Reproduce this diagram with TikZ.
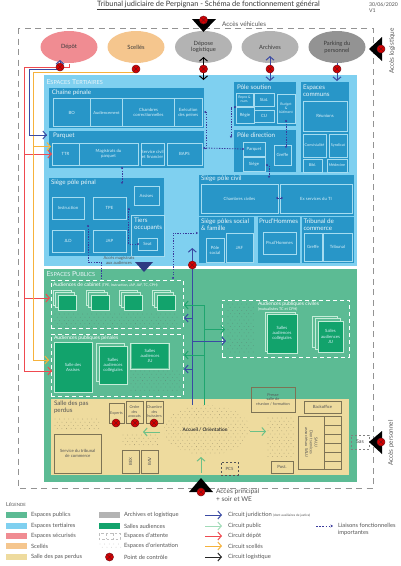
\documentclass[tikz,border=0pt]{standalone}
\usepackage{fontspec}
\setmainfont{Lato}
\usetikzlibrary{arrows.meta,shapes.geometric}
\definecolor{cPub}{HTML}{5CBB94}
\definecolor{cTer}{HTML}{7FD0F0}
\definecolor{cBox}{HTML}{2896C8}
\definecolor{cLine}{HTML}{A5DCF0}
\definecolor{cYel}{HTML}{EEDB9E}
\definecolor{cSec}{HTML}{F08C92}
\definecolor{cSce}{HTML}{F5C68E}
\definecolor{cGry}{HTML}{B3B3B3}
\definecolor{cPrk}{HTML}{808080}
\definecolor{cAud}{HTML}{12A36C}
\definecolor{cAudL}{HTML}{C4EDD8}
\definecolor{cBrn}{HTML}{7D7355}
\definecolor{cJur}{HTML}{3A4AA3}
\definecolor{cGrn}{HTML}{1FA56F}
\definecolor{cGrL}{HTML}{6CC088}
\definecolor{cDep}{HTML}{EF4A50}
\definecolor{cScl}{HTML}{F6B23C}
\definecolor{cLnk}{HTML}{3A3A9C}
\definecolor{cTxt}{HTML}{555555}
\definecolor{ctrlD}{HTML}{7A1018}
\newcommand\fs[1]{\fontsize{#1}{\fpeval{#1*1.18}}\selectfont}
\newcommand\bx[7][]{\pgfmathsetmacro\bxw{(#5)-(#3)}\pgfmathsetmacro\bxh{(#6)-(#4)}\pgfmathsetmacro\bxx{((#3)+(#5))/2}\pgfmathsetmacro\bxy{((#4)+(#6))/2}\node[#1,minimum width=\bxw pt,minimum height=\bxh pt] (#2) at (\bxx,\bxy) {#7};}
\newcommand\dotfield[5]{\pgfmathtruncatemacro\dfny{(#4-#2)/3.2}\pgfmathtruncatemacro\dfnx{(#3-#1)/4.6}%
\foreach \dfj in {0,...,\dfny}{\foreach \dfi in {0,...,\dfnx}{\pgfmathsetmacro\dfx{#1+\dfi*4.6+mod(\dfj,2)*2.3}\pgfmathsetmacro\dfy{#2+\dfj*3.2}\fill[#5] (\dfx,\dfy) circle (0.4);}}}
\newcommand\ctrl[3]{\node[ctrlpt] (#1) at (#2,#3) {};\draw[line width=.5,draw=ctrlD] (#1.north west)--(#1.south east) (#1.north east)--(#1.south west);}
\newcommand\stackbx[7]{\foreach \sti in {#7,...,1}{\pgfmathsetmacro\stx{\sti*#6}\bx[salle,fill=cPub]{#1b\sti}{#2-\stx}{#3-\stx}{#4-\stx}{#5-\stx}{}}}
\tikzset{
 x=1pt,y=-1pt,
 base/.style={inner sep=0pt,outer sep=0pt,align=center,font=\fs{4.3},text=cLine!40!white},
 zoneb/.style={base,rectangle,fill=cBox},
 bbox/.style={base,rectangle,draw=cLine,line width=.6pt},
 salle/.style={base,rectangle,fill=cAud,draw=cAudL,line width=.7pt},
 ybox/.style={base,rectangle,draw=cBrn,line width=.7pt,text=cTxt},
 ell/.style={base,ellipse,minimum width=57pt,minimum height=32pt,font=\fs{5.8},text=cTxt!70!black},
 ctrlpt/.style={circle,inner sep=0pt,outer sep=0pt,minimum size=8pt,fill=red!85!black,draw=ctrlD,line width=.5pt},
 ttl/.style={inner sep=0pt,outer sep=0pt,anchor=west,align=left,font=\fs{6.3},text=white!90!cBox},
 lab/.style={inner sep=0pt,outer sep=0pt,anchor=west,align=left,font=\fs{5.8},text=cTxt},
 circ/.style={line width=1pt,-{Straight Barb[length=3.5pt,width=8pt]}},
 plain/.style={line width=1pt},
 lnk/.style={line width=.8pt,draw=cLnk,dash pattern=on 1.3pt off 1.3pt},
 rnd/.style={fill=cLnk,circle,inner sep=0pt,minimum size=2.4pt},
 wdash/.style={draw=white,line width=.9pt,dash pattern=on 4pt off 3pt},
 dotG/.style={cTxt!40!cPub},
 dotY/.style={cBrn!65!cYel},
}
\begin{document}
\begin{tikzpicture}
\useasboundingbox (0,0) rectangle (400,566);
\fill[white] (0,0) rectangle (400,566);
% header
\node[inner sep=0pt,font=\fs{7.4},text=cTxt!70!black] (title) at (208.5,5) {\underline{Tribunal judiciaire de Perpignan - Schéma de fonctionnement général}};
\node[lab,font=\fs{5.2},align=left] (date) at (369,8) {30/06/2020\\V1};
\node[lab,font=\fs{6.4}] (accv) at (222,24.5) {Accès véhicules};
\node[lab,rotate=90,anchor=center,font=\fs{6.4}] (accl) at (392,51) {Accès logistique};
\node[lab,rotate=90,anchor=center,font=\fs{6.4}] (accp) at (391,443) {Accès personnel};
\node[lab,font=\fs{6.6}] (accm) at (216,495) {Accès principal\\+ soir et WE};
% outer dashed
\draw[draw=cPrk!85!white,line width=.9pt,dash pattern=on 6pt off 4.5pt] (18,28) rectangle (373,488);
% ellipses
\node[ell,fill=cSec] (eDep) at (69,47) {Dépôt};
\node[ell,fill=cSce] (eSce) at (136,47) {Scellés};
\node[ell,fill=cGry] (eLog) at (203.5,47) {Dépose\\logistique};
\node[ell,fill=cGry] (eArc) at (270,47) {Archives};
\node[ell,fill=cPrk!85!white] (ePrk) at (337,47) {Parking du\\personnel};
% zones
\bx[base,fill=cTer]{zTer}{44}{75}{357}{266}{}
\bx[base,fill=cPub]{zPub}{44}{269}{357}{482}{}
\bx[base,fill=cYel]{zYel}{51}{399}{349}{475}{}
\node[ttl,font=\fs{6.9}] (tTer) at (46.5,82) {E{\fs{5.6}SPACES} T{\fs{5.6}ERTIAIRES}};
\node[ttl,font=\fs{6.9}] (tPub) at (46.5,274) {E{\fs{5.6}SPACES} P{\fs{5.6}UBLICS}};
% chaine penale
\bx[zoneb]{zCha}{49}{88}{204}{128}{}
\node[ttl] at (52,93) {Chaîne pénale};
\bx[bbox]{bBO}{53}{98.5}{90.5}{126.7}{BO}
\bx[bbox,font=\fs{4.1}]{bAud}{90.5}{98.5}{122.5}{126.7}{Audiencement}
\bx[bbox]{bCha}{122.5}{98.5}{174.5}{126.7}{Chambres\\correctionnelles}
\bx[bbox]{bExe}{174.5}{98.5}{202}{126.7}{Exécution\\des peines}
% parquet
\bx[zoneb]{zPar}{49}{131}{204}{168.3}{}
\node[ttl] at (53,136) {Parquet};
\bx[bbox]{bTTR}{52}{143}{79}{165}{TTR}
\bx[bbox]{bMag}{79}{143}{138}{165}{Magistrats du\\parquet}
\bx[bbox]{bSer}{141}{143}{164}{165}{Service civil\\et financier}
\bx[bbox]{bBAP}{167}{143}{202}{165}{BAPS}
% siege penal
\bx[zoneb]{zPen}{49}{178}{164}{256}{}
\node[ttl] at (51,183) {Siège pôle pénal};
\bx[bbox]{bAss}{134}{186}{159}{205}{Assises}
\bx[bbox]{bIns}{52}{197}{84}{219}{Instruction}
\bx[bbox]{bTPE}{93}{197}{126}{219}{TPE}
\bx[bbox]{bJLD}{52}{230}{84}{252}{JLD}
\bx[bbox]{bJAP}{93}{230}{126}{252}{JAP}
\bx[base,fill=cBox,draw=cLine,line width=.6pt]{zTie}{131}{215}{164}{256}{}
\node[ttl] at (134,224) {Tiers\\occupants};
\bx[bbox]{bSea}{138}{238}{157}{250}{Seat}
% soutien
\bx[zoneb]{zSou}{234}{82}{296}{126}{}
\node[ttl] at (237,87) {Pôle soutien};
\bx[bbox,font=\fs{3.5}]{bRep}{236}{93}{253}{106}{Repro \&\\num.}
\bx[bbox]{bSta}{254}{93}{274}{106}{Stat.}
\bx[bbox]{bReg}{236}{107}{254}{123}{Régie}
\bx[bbox]{bCIJ}{254}{110}{274}{122}{CIJ}
\bx[bbox,font=\fs{3.5}]{bBud}{277}{94}{295}{123}{Budget\\\&\\bâtiment}
% direction
\bx[zoneb]{zDir}{234}{130}{296}{172}{}
\node[ttl] at (237,135.5) {Pôle direction};
\bx[bbox]{bPar2}{243}{142}{265}{156}{Parquet}
\bx[bbox]{bSie}{243}{157}{265}{171}{Siège}
\bx[bbox]{bGre}{274}{145}{291}{165}{Greffe}
% communs
\bx[zoneb]{zCom}{301}{82}{349}{172}{}
\node[ttl] at (303,91) {Espaces\\communs};
\bx[bbox]{bReu}{303}{101}{347}{131}{Réunions}
\bx[bbox,font=\fs{3.8}]{bCon}{303}{134}{326}{157}{Convivialité}
\bx[bbox,font=\fs{3.8}]{bSyn}{329}{134}{347}{157}{Syndicat}
\bx[bbox,font=\fs{3.8}]{bBib}{303}{159}{322}{172}{Bibl.}
\bx[bbox,font=\fs{3.8}]{bMed}{327}{159}{347}{172}{Médecine}
% civil
\bx[zoneb]{zCiv}{199}{175}{354}{216}{}
\node[ttl] at (201,179) {Siège pôle civil};
\bx[bbox]{bChC}{201}{184}{278}{213}{Chambres civiles}
\bx[bbox]{bExS}{280}{184}{352}{213}{Ex services du TI}
% social
\bx[zoneb]{zSoc}{199}{217}{254}{263}{}
\node[ttl] at (201,224.5) {Siège pôles social\\\& famille};
\bx[bbox]{bPso}{206}{238}{224}{262}{Pôle\\social}
\bx[bbox]{bJAF}{226}{233}{253}{262}{JAF}
% prud
\bx[zoneb]{zPru}{258}{217}{300}{263}{}
\node[ttl] at (259,221) {Prud'Hommes};
\bx[bbox]{bPru}{263}{232}{296}{254}{Prud'Hommes}
% commerce
\bx[zoneb]{zTri}{302}{217}{354}{263}{}
\node[ttl] at (303.5,224.5) {Tribunal de\\commerce};
\bx[bbox]{bGrT}{304}{233}{322}{261}{Greffe}
\bx[bbox]{bTrb}{323}{233}{352}{261}{Tribunal}
% acces magistrats
\node[lab,anchor=center,font=\fs{4.2},align=center] (lMag) at (119,260.5) {Accès magistrats\\aux audiences};
\fill[cJur!80!black] (135,262) -- (153,262) -- (144,272) -- cycle;
% audiences cabinet
\bx[base,wdash]{dCab}{51}{280}{183}{328}{}
\node[ttl,font=\fs{5.1},text=white] (tCab) at (53,285) {Audiences de cabinet {\fs{3.5}(TPE, Instruction, JAP, JAF, TC, CPH)}};
\foreach \bxs/\bxa in {58/a,91/b,124/c,157/d}{
 \pgfmathsetmacro\bxe{\bxs+18.5}
 \stackbx{sc\bxa}{\bxs}{295}{\bxe}{310}{2.5}{2}
 \bx[salle]{sc\bxa f}{\bxs}{295}{\bxe}{310}{}
}
\dotfield{55}{314}{176}{327}{dotG}
% audiences penales
\bx[base,wdash]{dPen}{51}{334}{183}{396}{}
\node[ttl,font=\fs{5.1},text=white] (tPe) at (54,338) {Audiences publiques pénales};
\bx[salle]{sAss}{54}{342}{92}{392}{Salle des\\Assises}
\bx[salle,fill=cPub]{sCoB}{96}{343}{124}{381}{}
\bx[salle]{sCoF}{99}{346}{127}{384}{Salles\\audiences\\collégiales}
\bx[salle,fill=cPub]{sJUb}{130}{343}{169}{369}{}
\bx[salle,draw=none]{sJUf}{132}{344}{168}{368}{Salles\\audiences\\JU}
\dotfield{131}{371}{178}{393}{dotG}
% audiences civiles
\bx[base,wdash]{dCiv}{222}{300}{349}{357}{}
\node[ttl,font=\fs{5.1},text=white] (tCi) at (258,304) {Audiences publiques civiles};
\node[ttl,font=\fs{3.7},text=white] (tCi2) at (258,309) {(mutualisées TC et CPH)};
\dotfield{228}{304}{252}{354}{dotG}
\bx[salle,fill=cPub]{sC2b}{265}{312}{295}{351}{}
\bx[salle]{sC2f}{267}{314}{297}{353}{Salles\\audiences\\collégiales}
\bx[salle,fill=cPub]{sJ3}{312}{316}{337}{347}{}
\bx[salle,fill=cPub]{sJ2}{315}{318.5}{340}{349.5}{}
\bx[salle]{sJ1}{318}{321}{343}{352}{Salles\\audiences\\JU}
% presse etc
\bx[ybox,font=\fs{3.9}]{yPre}{251}{387}{295}{412}{Presse\\salle de\\réunion / formation}
\bx[ybox]{yBac}{304}{401}{341}{413}{Backoffice}
\bx[ybox]{yGrd}{324.5}{416}{341}{469}{}
\foreach \gy in {425,434,443,452,461}{\draw[cBrn,line width=.7pt] (324.5,\gy) -- (341,\gy);}
\bx[ybox]{ySAU}{298}{416}{324.5}{469}{}
\node[base,rotate=-90,text=cTxt,font=\fs{4}] (tSAU) at (ySAU) {SAUJ\\Dont services\\associés au SAUJ};
\bx[ybox]{yPos}{271}{461}{293}{473}{Post.}
\bx[ybox,draw=cTxt,line width=.6pt,dash pattern=on 2pt off 2pt]{yPCS}{221}{462}{238}{475}{PCS}
\dotfield{268}{418}{294}{459}{dotY}
\begin{scope}
 \clip (207,430) ellipse (43 and 25);
 \dotfield{162}{405}{252}{455}{dotY}
\end{scope}
\node[inner sep=0pt,font=\fs{4.8}\bfseries,text=black!80] (acc) at (205,430) {Accueil / Orientation};
\node[lab,font=\fs{6.2},text=cTxt] (tSal) at (54,407) {Salle des pas\\perdus};
\dotfield{55}{419}{101}{431}{dotY}
\bx[ybox]{ySer}{54}{434}{101.5}{473}{Service du tribunal\\de commerce}
\bx[ybox,font=\fs{3.8}]{yExp}{109}{403}{124}{423}{Experts}
\bx[ybox,font=\fs{3.8}]{yOrd}{126}{401}{143}{423}{Ordre\\des\\avocats}
\bx[ybox,font=\fs{3.8}]{yHui}{146}{401}{163}{423}{Chambre\\des\\huissiers}
\dotfield{123}{435}{157}{447}{dotY}
\bx[ybox]{yBEX}{122}{450}{139}{473}{}
\node[base,rotate=90,text=cTxt] at (yBEX) {BEX};
\bx[ybox]{yBAV}{141}{450}{158}{473}{}
\node[base,rotate=90,text=cTxt] at (yBAV) {BAV};
% Sas
\bx[ybox,draw=cPrk,line width=.6pt,dash pattern=on 2pt off 2pt,font=\fs{5.4}]{ySas}{351}{435}{369}{449}{Sas}
% triangles
\fill[black] (203.5,32) -- (192,19) -- (216,19) -- cycle;
\fill[black] (369,49) -- (382,37) -- (382,61) -- cycle;
\fill[black] (369,442) -- (382,431) -- (382,454) -- cycle;
\fill[black] (201,478) -- (189,492) -- (213,492) -- cycle;
% named ends
\coordinate (aDepT) at (69,64);
\coordinate (aPen) at (52,154);
\coordinate (aCab) at (50,298);
\coordinate (aAss) at (52,371);
\coordinate (aScl1) at (51,146.5);
\coordinate (aScl2) at (49,360);
\coordinate (aJur) at (47,135);
% circuits left
\draw[plain,cDep] (aDepT) |- (24,67) -- (24,371) -- (aAss) ;
\draw[circ,cDep] (24,371) -- (aAss);
\draw[circ,cDep] (24,154) -- (aPen);
\draw[circ,cDep] (24,298) -- (aCab);
\draw[plain,cScl] (136,69) |- (33.7,72.5) -- (33.7,360) -- (aScl2);
\draw[circ,cScl] (33.7,360) -- (aScl2);
\draw[circ,cScl] (33.7,146.5) -- (aScl1);
\draw[plain,cJur] (60,69.7) -| (29,135) -- (aJur);
\draw[circ,cJur] (29,135) -- (aJur);
\draw[circ,cJur] (60,68) -- (60,60);
% top circuits
\draw[circ,black] (203.5,69) -- (203.5,57);
\draw[circ,black] (203.5,69) -- (203.5,80);
\draw[circ,cJur] (270,69) -- (270,56);
\draw[circ,cJur] (270,69) -- (270,81);
\draw[circ,cJur] (ePrk.south) -- (337,81);
% central circuits
\draw[circ,cJur] (192.3,405) -- (192.3,248);
\draw[plain,cGrn] (204,405) -- (204,305);
\draw[circ,cGrn] (204,305) -- (184,305);
\draw[circ,cGrn] (204,355) -- (184,355);
\draw[circ,cGrn] (204,329.5) -- (225,329.5);
\draw[circ,cJur] (192.3,318) -- (184,318);
\draw[circ,cJur] (192.3,369) -- (184,369);
\draw[circ,cJur] (192.3,341) -- (226,341);
\draw[circ,cGrL] (160,432) -- (143,432);
\draw[circ,cGrL] (250,431.5) -- (266,431.5);
\draw[circ,cGrL] (201,473) -- (201,457);
% links
\draw[lnk,-{Stealth[length=2.2pt,width=2.6pt]}] (122,168) -- (122,184);
\node[rnd] at (122,168) {};
\draw[lnk,{Stealth[length=2.2pt,width=2.6pt]}-{Stealth[length=2.2pt,width=2.6pt]}] (204,112) -| (206,148) -- (203,148);
\draw[lnk] (206,148) -- (bPar2.west);
\node[rnd] at (bPar2.west) {};
\draw[lnk,-{Stealth[length=2.2pt,width=2.6pt]}] (235,107) -| (231,138);
\node[rnd] at (235,107) {};
\draw[lnk,-{Stealth[length=2.2pt,width=2.6pt]}] (286,121) -- (286,148);
\node[rnd] at (286,121) {};
\draw[lnk,-{Stealth[length=2.2pt,width=2.6pt]}] (267,165) -| (269,178);
\node[rnd] at (267,165) {};
\draw[lnk,{Stealth[length=2.2pt,width=2.6pt]}-{Stealth[length=2.2pt,width=2.6pt]}] (276,198) -- (283,198);
\draw[lnk,{Stealth[length=2.2pt,width=2.6pt]}-] (127.5,209) -| (128.5,244) -- (bSea.west);
\node[rnd] at (bSea.west) {};
\draw[lnk] (88,226) -- (88,262) -| (101,280);
\node[rnd] at (88,226) {};
\draw[lnk,-{Stealth[length=2.2pt,width=2.6pt]}] (173,278) |- (198,233);
\node[rnd] at (173,278) {};
% control points
\ctrl{cDepot}{60}{67}
\ctrl{cScel}{136}{69}
\ctrl{cLogi}{203.5}{69}
\ctrl{cArch}{270}{69}
\ctrl{cPark}{337}{69}
\ctrl{cTop}{203.5}{20}
\ctrl{cLog2}{381}{49}
\ctrl{cPers}{381}{442}
\ctrl{cMain}{201}{492}
\ctrl{cPubl}{192.3}{265}
\ctrl{cExp}{116}{423}
\ctrl{cOrd}{135}{423}
\ctrl{cHui}{154}{423}
% legend
\node[ttl,font=\fs{5.4},text=cTxt] (lg) at (6,505) {L{\fs{4.3}ÉGENDE}};
\foreach \ly/\lc/\lt in {515/cPub/Espaces publics,526/cTer/Espaces tertiaires,536/cSec/Espaces sécurisés,546/cSce/Scellés,557/cYel/Salle des pas perdus}{
 \fill[\lc] (6,\ly-3) rectangle (27,\ly+3);
 \node[lab] at (31,\ly) {\lt};
}
\foreach \ly/\lc/\lt in {515/cGry/Archives et logistique,526/cAud/Salles audiences}{
 \fill[\lc] (99,\ly-3) rectangle (120,\ly+3);
 \node[lab] at (124,\ly) {\lt};
}
\draw[draw=cPrk!50!white,line width=.6pt,dash pattern=on 2.5pt off 2pt] (99,533) rectangle (120,539);
\draw[draw=cPrk!50!white,line width=.6pt,dash pattern=on 2.5pt off 2pt] (106,533) -- (106,539) (113,533) -- (113,539);
\node[lab] at (124,536) {Espaces d'attente};
\dotfield{100}{544}{120}{549}{cPrk!50!white}
\node[lab] at (124,546) {Espaces d'orientation};
\ctrl{cLeg}{109.5}{557}
\node[lab] at (124,557) {Point de contrôle};
\foreach \ly/\lc/\lt in {515/cJur/{Circuit juridiction {\fs{3.2}(dont auxiliaires de justice)}},526/cAudL!60!cGrL/Circuit public,536/cDep/Circuit dépôt,546/cScl/Circuit scellés,557/black!85/Circuit logistique}{
 \draw[circ,\lc] (205,\ly) -- (222,\ly);
 \node[lab] at (228,\ly) {\lt};
}
\draw[draw=cLnk,line width=1pt,dash pattern=on 1.6pt off 1.6pt,-{Stealth[length=2.6pt,width=3pt]}] (316,526) -- (333,526);
\node[lab,anchor=north west] at (338,523) {Liaisons fonctionnelles\\importantes};
\end{tikzpicture}
\end{document}
